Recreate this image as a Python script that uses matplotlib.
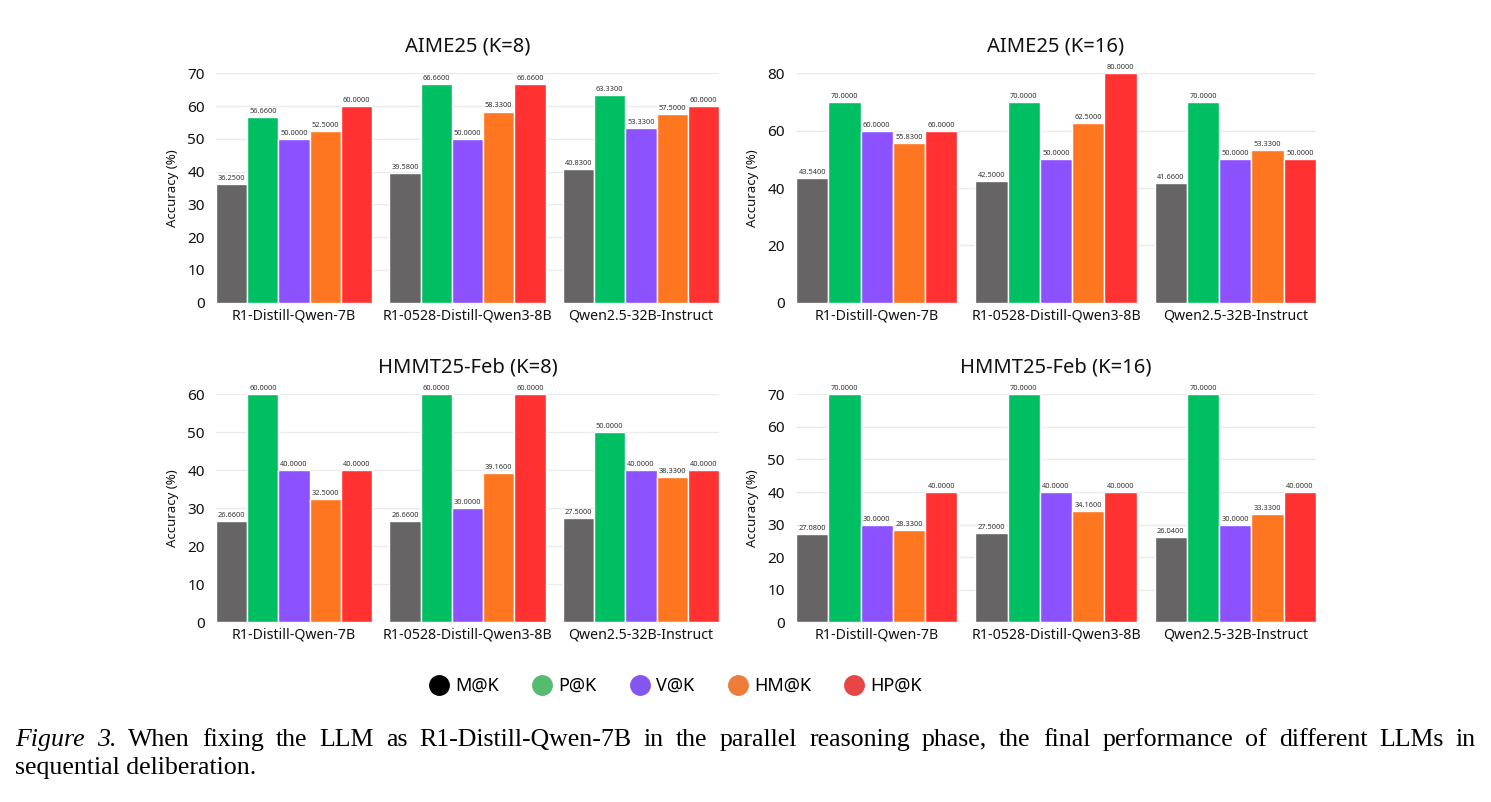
import matplotlib.pyplot as plt
import numpy as np
from matplotlib.lines import Line2D

plt.rcParams['font.family'] = ['Noto Sans', 'DejaVu Sans']

# ----------------------------
# DATA
# ----------------------------

models = ["R1-Distill-Qwen-7B", "R1-0528-Distill-Qwen3-8B", "Qwen2.5-32B-Instruct"]
metrics = ["M@K", "P@K", "V@K", "HM@K", "HP@K"]

# one row per metric (M, P, V, HM, HP), one value per model
aime25_k8 = [
    [36.25, 39.58, 40.83],
    [56.66, 66.66, 63.33],
    [50.00, 50.00, 53.33],
    [52.50, 58.33, 57.50],
    [60.00, 66.66, 60.00],
]
aime25_k16 = [
    [43.54, 42.50, 41.66],
    [70.00, 70.00, 70.00],
    [60.00, 50.00, 50.00],
    [55.83, 62.50, 53.33],
    [60.00, 80.00, 50.00],
]
hmmt25_k8 = [
    [26.66, 26.66, 27.50],
    [60.00, 60.00, 50.00],
    [40.00, 30.00, 40.00],
    [32.50, 39.16, 38.33],
    [40.00, 60.00, 40.00],
]
hmmt25_k16 = [
    [27.08, 27.50, 26.04],
    [70.00, 70.00, 70.00],
    [30.00, 40.00, 30.00],
    [28.33, 34.16, 33.33],
    [40.00, 40.00, 40.00],
]

caption_1 = ("When fixing the LLM as R1-Distill-Qwen-7B in the parallel reasoning "
             "phase, the final performance of different LLMs in")
caption_2 = "sequential deliberation."

# ----------------------------
# STYLE
# ----------------------------

bar_colors = ["#666464", "#00BF63", "#8C52FF", "#FF7620", "#FF3131"]
legend_colors = ["#000000", "#55BB6F", "#8456F0", "#EF7D3A", "#E84545"]

W, H = 1491, 802
fig = plt.figure(figsize=(W / 100, H / 100), dpi=100)


def rect(x0, x1, ytop, ybot):
    return [x0 / W, 1 - ybot / H, (x1 - x0) / W, (ybot - ytop) / H]


panels = [
    ("AIME25 (K=8)", aime25_k8, 70, 10, rect(216, 719, 73.3, 302.7)),
    ("AIME25 (K=16)", aime25_k16, 80, 20, rect(796, 1316, 73.3, 302.7)),
    ("HMMT25-Feb (K=8)", hmmt25_k8, 60, 10, rect(216, 719, 394.3, 622.3)),
    ("HMMT25-Feb (K=16)", hmmt25_k16, 70, 10, rect(796, 1316, 394.3, 622.3)),
]

bw = 0.18
x = np.arange(len(models))

for title, data, ymax, step, r in panels:
    ax = fig.add_axes(r)
    for j, vals in enumerate(data):
        offs = (j - 2) * bw
        bars = ax.bar(
            x + offs, vals, width=bw,
            color=bar_colors[j], edgecolor="white", linewidth=1.0,
            zorder=3
        )
        ax.bar_label(
            bars, fmt="%.4f", fontsize=5.3, padding=1.5, color="#333333"
        )

    ax.set_xlim(-2.5 * bw, len(models) - 1 + 2.5 * bw)
    ax.set_ylim(0, ymax)
    ax.set_yticks(np.arange(0, ymax + 1, step))
    ax.set_xticks(x)
    ax.set_xticklabels(models)

    ax.grid(axis="y", color="#EBEBEB", linewidth=1.0, zorder=0)
    for s in ["top", "right", "left", "bottom"]:
        ax.spines[s].set_visible(False)
    ax.tick_params(axis="y", length=0, pad=8, labelsize=11, colors="#111111")
    ax.tick_params(axis="x", length=0, pad=4, labelsize=10.2, colors="#111111")

    ax.set_title(title, fontsize=14.5, pad=16, color="#111111")
    ax.set_ylabel("Accuracy (%)", fontsize=9.5, labelpad=6, color="#111111")

# ----------------------------
# LEGEND
# ----------------------------

handles = [
    Line2D([], [], marker="o", linestyle="none", markersize=14,
           markerfacecolor=c, markeredgecolor=c)
    for c in legend_colors
]
fig.legend(
    handles, metrics, loc="center", ncol=5, frameon=False,
    bbox_to_anchor=(676 / W, 1 - 686 / H), fontsize=13,
    handlelength=1.0, handletextpad=0.4, columnspacing=1.9
)

# ----------------------------
# CAPTION (first line justified)
# ----------------------------

cap_size = 18.6
serif = "Liberation Serif"
left_px, right_px = 15, 1476
y1, y2 = 1 - 740 / H, 1 - 768 / H

renderer = fig.canvas.get_renderer()
tokens = [("Figure", "italic"), ("3.", "italic")]
tokens += [(w, "normal") for w in caption_1.split()]
texts = []
for word, st in tokens:
    t = fig.text(0, y1, word, fontsize=cap_size, family=serif, style=st,
                 va="center")
    texts.append(t)
widths = [t.get_window_extent(renderer).width for t in texts]
gap = (right_px - left_px - sum(widths)) / (len(texts) - 1)
xpos = left_px
for t, w in zip(texts, widths):
    t.set_x(xpos / W)
    xpos += w + gap

fig.text(left_px / W, y2, caption_2, fontsize=cap_size, family=serif,
         va="center")

plt.savefig("out.png", dpi=100)
